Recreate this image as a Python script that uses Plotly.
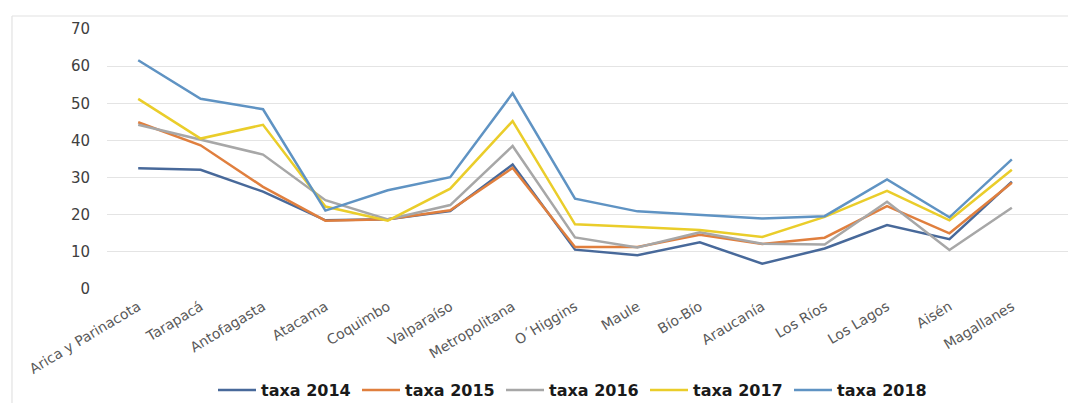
import plotly.graph_objects as go

regioes = ["Arica y Parinacota", "Tarapacá", "Antofagasta", "Atacama", "Coquimbo",
           "Valparaíso", "Metropolitana", "O´Higgins", "Maule", "Bío-Bío",
           "Araucanía", "Los Ríos", "Los Lagos", "Aisén", "Magallanes"]

taxa_2014 = [32.5, 32.1, 26.2, 18.5, 18.8, 21.0, 33.5, 10.6, 9.1, 12.6, 6.8, 10.9, 17.2, 13.4, 28.9]
taxa_2015 = [44.9, 38.7, 27.5, 18.4, 18.8, 21.2, 32.6, 11.3, 11.3, 14.6, 12.1, 13.8, 22.3, 15.0, 28.6]
taxa_2016 = [44.2, 40.1, 36.2, 23.9, 18.7, 22.6, 38.5, 13.9, 11.2, 15.3, 12.2, 12.0, 23.5, 10.5, 21.9]
taxa_2017 = [51.2, 40.5, 44.2, 22.2, 18.4, 27.0, 45.2, 17.4, 16.7, 15.9, 14.0, 19.4, 26.4, 18.5, 32.1]
taxa_2018 = [61.6, 51.2, 48.4, 21.1, 26.6, 30.1, 52.7, 24.3, 20.9, 19.9, 19.0, 19.6, 29.5, 19.3, 34.9]

series = [
    ("taxa 2014", taxa_2014, "#48699a"),
    ("taxa 2015", taxa_2015, "#e07f3e"),
    ("taxa 2016", taxa_2016, "#a7a7a7"),
    ("taxa 2017", taxa_2017, "#eacd2a"),
    ("taxa 2018", taxa_2018, "#5f93c3"),
]

fig = go.Figure()
for nome, valores, cor in series:
    fig.add_trace(go.Scatter(
        x=regioes, y=valores, name=nome, mode="lines",
        line=dict(color=cor, width=2.5),
    ))

fig.update_layout(
    width=1068, height=403,
    margin=dict(l=107, r=0, t=29, b=114, autoexpand=False),
    paper_bgcolor="white", plot_bgcolor="white",
    showlegend=True,
    legend=dict(
        orientation="h", x=(213 - 107) / 961, xanchor="left",
        y=(403 - 390) / 403, yref="container", yanchor="middle",
        font=dict(family="DejaVu Sans", size=16, color="#1a1a1a", weight="bold"),
        entrywidth=91, entrywidthmode="pixels", itemwidth=38,
        bgcolor="rgba(0,0,0,0)",
    ),
    xaxis=dict(
        type="category", range=[-0.5, 14.9], automargin=False,
        showgrid=False, showline=False, zeroline=False, ticks="",
        tickangle=-31, ticklabelstandoff=6,
        tickfont=dict(family="DejaVu Sans", size=14, color="#595959"),
    ),
    yaxis=dict(
        range=[0, 70], dtick=10, tick0=0, automargin=False,
        showgrid=True, gridcolor="#e4e4e4", gridwidth=1,
        zeroline=False, showline=False, ticks="",
        ticklabelstandoff=16,
        tickfont=dict(family="DejaVu Sans", size=15, color="#404040"),
    ),
    shapes=[
        dict(type="line", xref="paper", yref="paper",
             x0=(12 - 107) / 961, x1=1.01, y0=1 + 13 / 260, y1=1 + 13 / 260,
             line=dict(color="#e2e2e2", width=1.2), layer="below"),
        dict(type="line", xref="paper", yref="paper",
             x0=(12 - 107) / 961, x1=(12 - 107) / 961, y0=1 + 13 / 260, y1=-0.5,
             line=dict(color="#e2e2e2", width=1.2), layer="below"),
    ],
)

fig.write_html("out.html")
